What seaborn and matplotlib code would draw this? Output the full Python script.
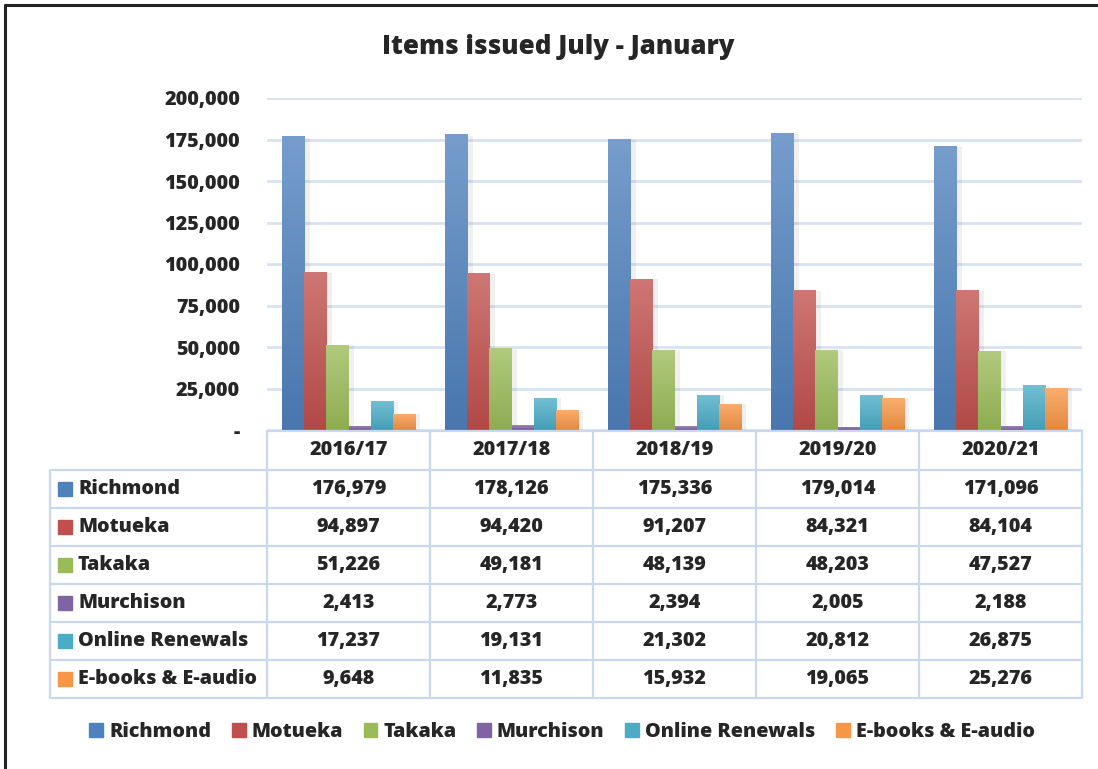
import matplotlib
matplotlib.use("Agg")
import matplotlib.pyplot as plt
from matplotlib.lines import Line2D
from matplotlib.patches import Rectangle
from matplotlib.colors import to_rgb
import numpy as np
import seaborn as sns
import pandas as pd

years = ["2016/17", "2017/18", "2018/19", "2019/20", "2020/21"]
series = ["Richmond", "Motueka", "Takaka", "Murchison", "Online Renewals", "E-books & E-audio"]
richmond = [176979, 178126, 175336, 179014, 171096]
motueka = [94897, 94420, 91207, 84321, 84104]
takaka = [51226, 49181, 48139, 48203, 47527]
murchison = [2413, 2773, 2394, 2005, 2188]
online = [17237, 19131, 21302, 20812, 26875]
ebooks = [9648, 11835, 15932, 19065, 25276]
colors = ["#4F81BD", "#C0504D", "#9BBB59", "#8064A2", "#4BACC6", "#F79646"]
title = "Items issued July - January"

values = [richmond, motueka, takaka, murchison, online, ebooks]
rows = []
for s, vals in zip(series, values):
    for y, v in zip(years, vals):
        rows.append({"Year": y, "Series": s, "Value": v})
df = pd.DataFrame(rows)

sns.set_style("white")
FONT = ["Open Sans", "DejaVu Sans"]
WT = 800
plt.rcParams["font.family"] = FONT
plt.rcParams["font.weight"] = WT

W, H = 1098, 769
fig = plt.figure(figsize=(W / 100, H / 100), dpi=100)

def fx(px):
    return px / W

def fy(py):
    return 1 - py / H

ax = fig.add_axes([fx(267), fy(430), fx(1082) - fx(267), fy(98) - fy(430)])
sns.barplot(data=df, x="Year", y="Value", hue="Series", hue_order=series,
            order=years, palette=colors, width=0.81, ax=ax, legend=False,
            saturation=1, edgecolor="none", zorder=3)

for p in list(ax.patches):
    base = np.array(to_rgb(p.get_facecolor()))
    top = base + (1 - base) * 0.22
    bot = base * 0.92
    grad = np.linspace(0, 1, 64)[:, None, None]
    img = top * (1 - grad) + bot * grad
    x0, y0 = p.get_x(), p.get_y()
    w, h = p.get_width(), p.get_height()
    im = ax.imshow(img, extent=[x0, x0 + w, y0, y0 + h], aspect="auto",
                   origin="upper", zorder=4)
    im.set_clip_path(p)
    ax.add_patch(Rectangle((x0 + w, y0), w * 0.25, h * 0.995, color="#000000",
                           alpha=0.06, lw=0, zorder=2))
ax.set_xlim(-0.5, len(years) - 0.5)
ax.set_ylim(0, 200000)

fs = 14.2
ax.set_yticks(range(0, 200001, 25000))
ax.yaxis.set_major_formatter(matplotlib.ticker.FuncFormatter(
    lambda v, p: "-" if v == 0 else f"{int(v):,}"))
ax.tick_params(axis="y", labelsize=fs, pad=19.4, length=0)
for t in ax.get_yticklabels():
    t.set_fontweight(WT)
ax.set_xticks([])
ax.set_xlabel("")
ax.set_ylabel("")
ax.grid(axis="y", color="#D8E2F2", linewidth=2, zorder=0)
for sp in ax.spines.values():
    sp.set_visible(False)

gcol = "#C9D8EE"
col_x = [267, 430, 593, 756, 919, 1082]
row_y = [470, 508, 546, 584, 622, 660, 698]
lw = 1.6
fig.add_artist(Line2D([fx(267), fx(1082)], [fy(431), fy(431)], color=gcol, lw=lw))
for x in col_x:
    fig.add_artist(Line2D([fx(x), fx(x)], [fy(431), fy(698)], color=gcol, lw=lw))
fig.add_artist(Line2D([fx(50), fx(50)], [fy(470), fy(698)], color=gcol, lw=lw))
for y in row_y:
    fig.add_artist(Line2D([fx(50), fx(1082)], [fy(y), fy(y)], color=gcol, lw=lw))
for i, yr in enumerate(years):
    cx = (col_x[i] + col_x[i + 1]) / 2
    fig.text(fx(cx), fy(450), yr, ha="center", va="center", fontsize=fs, fontweight=WT)
for r, (s, vals, c) in enumerate(zip(series, values, colors)):
    cy = (row_y[r] + row_y[r + 1]) / 2
    fig.add_artist(Rectangle((fx(58), fy(cy + 7)), fx(14), fy(0) - fy(14), color=c,
                             transform=fig.transFigure))
    fig.text(fx(78), fy(cy), s, ha="left", va="center", fontsize=fs, fontweight=WT)
    for i, v in enumerate(vals):
        cx = (col_x[i] + col_x[i + 1]) / 2
        fig.text(fx(cx), fy(cy), f"{v:,}", ha="center", va="center", fontsize=fs,
                 fontweight=WT)

fig.text(fx(558), fy(47), title, ha="center", va="center", fontsize=18.6, fontweight=WT)

handles = [Rectangle((0, 0), 1, 1, color=c) for c in colors]
fig.legend(handles, series, loc="center", bbox_to_anchor=(fx(562), fy(732)), ncol=6,
           frameon=False, prop={"size": fs, "weight": WT}, handlelength=0.7,
           handleheight=0.7, handletextpad=0.3, columnspacing=1.05)

fig.add_artist(Line2D([fx(5), fx(5)], [fy(5), 0], color="#222222", lw=2.2))
fig.add_artist(Line2D([fx(5), 1], [fy(5), fy(5)], color="#222222", lw=2.2))

fig.savefig("out.png", dpi=100)
